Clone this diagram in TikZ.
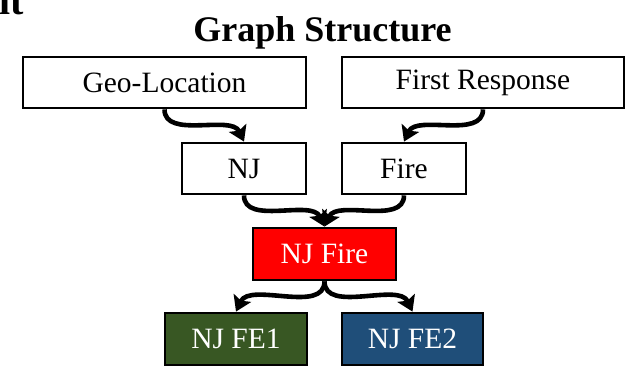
\documentclass[tikz,border=0pt]{standalone}
\usepackage{fontspec}
\setmainfont{Liberation Serif}
\usetikzlibrary{arrows.meta}
\definecolor{fegreen}{HTML}{385723}
\definecolor{feblue}{HTML}{1F4E79}
\tikzset{
  box/.style={draw=black, line width=2.8pt, fill=white, inner sep=0pt,
    minimum height=51pt, font=\fontsize{29.5}{32}\selectfont, text=black},
  link/.style={line width=4.6pt, -{Stealth[length=15pt,width=19pt,inset=3pt]},
    looseness=0.9},
  toright/.style={link, out=-90, in=115},
  toleft/.style={link, out=-90, in=65},
}
\begin{document}
\begin{tikzpicture}[x=1pt,y=1pt]
  \useasboundingbox (0,0) rectangle (625,366);
  % clipped heading of the neighbouring panel
  \node[anchor=base east, inner sep=0pt, font=\fontsize{40}{44}\selectfont\bfseries] (frag) at (24,351) {lt};
  \node[anchor=base, inner sep=0pt, font=\fontsize{36}{40}\selectfont\bfseries] (title) at (322.5,324) {Graph Structure};
  % boxes
  \node[box, minimum width=283pt] (geo) at (164.5,283.5) {Geo-Location};
  \node[box, minimum width=282pt] (fr) at (483,283.5) {First Response};
  \node[box, minimum width=124pt] (nj) at (244,197.5) {NJ};
  \node[box, minimum width=124pt] (fire) at (404,197.5) {Fire};
  \node[box, minimum width=143pt, minimum height=52pt, fill=red, text=white] (njfire) at (324.5,112) {NJ Fire};
  \node[box, minimum width=142pt, minimum height=52pt, fill=fegreen, text=white] (fe1) at (236,27) {NJ FE1};
  \node[box, minimum width=141pt, minimum height=52pt, fill=feblue, text=white] (fe2) at (412.5,27) {NJ FE2};
  % connectors
  \draw[toright] (geo.south) to (nj.north);
  \draw[toleft] (fr.south) to (fire.north);
  \draw[toright] (nj.south) to (njfire.north);
  \draw[toleft] (fire.south) to (njfire.north);
  \draw[toleft] (njfire.south) to (fe1.north);
  \draw[toright] (njfire.south) to (fe2.north);
\end{tikzpicture}
\end{document}
